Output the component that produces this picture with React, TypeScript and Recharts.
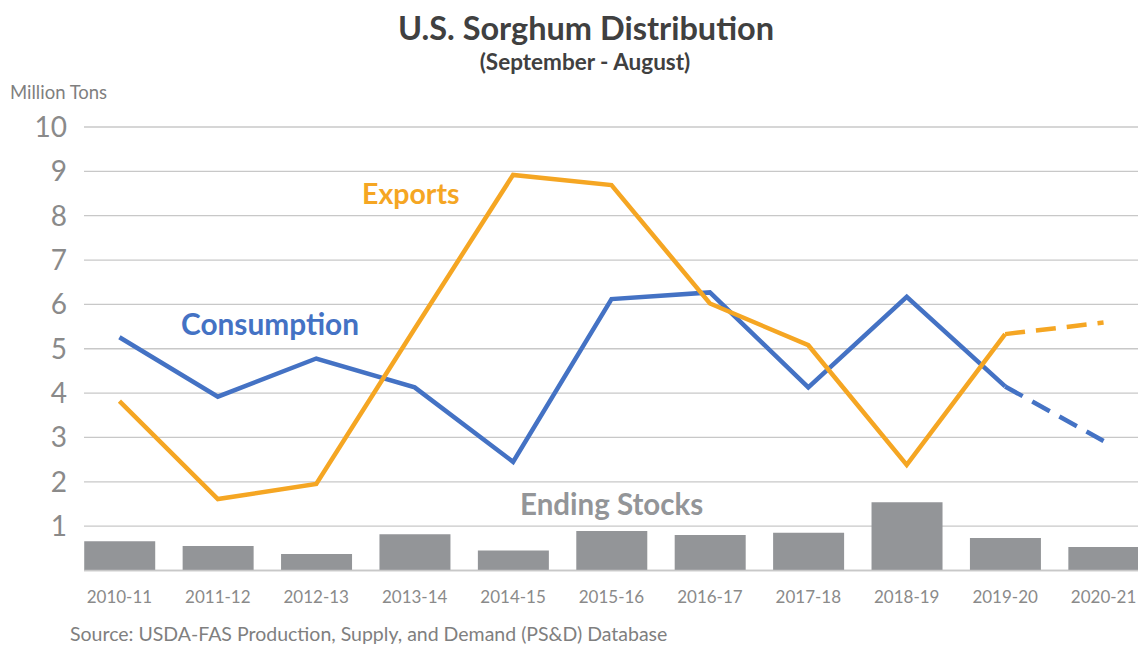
import React from "react";
import {
  ComposedChart,
  Bar,
  Line,
  XAxis,
  YAxis,
  CartesianGrid,
  ReferenceLine,
} from "recharts";

// Marketing years on the x axis
const seasons = [
  "2010-11",
  "2011-12",
  "2012-13",
  "2013-14",
  "2014-15",
  "2015-16",
  "2016-17",
  "2017-18",
  "2018-19",
  "2019-20",
  "2020-21",
];

// Million tons
const consumption = [5.26, 3.92, 4.78, 4.13, 2.45, 6.12, 6.27, 4.13, 6.17, 4.15, 2.92];
const exportsVals = [3.82, 1.61, 1.95, 5.45, 8.92, 8.69, 6.02, 5.08, 2.38, 5.33, 5.59];
const endingStocks = [0.66, 0.55, 0.37, 0.82, 0.45, 0.89, 0.8, 0.85, 1.54, 0.73, 0.53];

// last season is a projection (dashed)
const firstProjected = 10;
const yTicks = [1, 2, 3, 4, 5, 6, 7, 8, 9, 10];

const BLUE = "#4472C4";
const ORANGE = "#F5A623";
const GREY = "#939598";
const TEXT = "#8a8a8a";
const FONT = "Lato, 'Open Sans', sans-serif";

const data = seasons.map((s, i) => ({
  idx: i,
  season: s,
  stocks: endingStocks[i],
  consumption: i < firstProjected ? consumption[i] : null,
  consumptionProj: i >= firstProjected - 1 ? consumption[i] : null,
  exports: i < firstProjected ? exportsVals[i] : null,
  exportsProj: i >= firstProjected - 1 ? exportsVals[i] : null,
}));

export default function App() {
  return (
    <div
      style={{
        position: "absolute",
        left: 0,
        top: 0,
        width: 1138,
        height: 645,
        overflow: "hidden",
        background: "#fff",
        fontFamily: FONT,
      }}
    >
      <div
        style={{
          position: "absolute",
          top: 8,
          left: 0,
          width: 1172,
          textAlign: "center",
          fontSize: 32.5,
          fontWeight: 700,
          color: "#404040",
        }}
      >
        U.S. Sorghum Distribution
      </div>
      <div
        style={{
          position: "absolute",
          top: 48,
          left: 0,
          width: 1170,
          textAlign: "center",
          fontSize: 22.5,
          fontWeight: 700,
          color: "#404040",
        }}
      >
        (September - August)
      </div>
      <div style={{ position: "absolute", top: 81, left: 10, fontSize: 18.5, color: "#7f7f7f" }}>
        Million Tons
      </div>

      <ComposedChart
        width={1138}
        height={645}
        data={data}
        margin={{ top: 127, right: 0, bottom: 44.5, left: 24 }}
      >
        <CartesianGrid vertical={false} stroke="#c8c8c8" strokeWidth={1.3} />
        <XAxis
          type="number"
          dataKey="idx"
          domain={[-0.36, 10.35]}
          allowDataOverflow
          ticks={seasons.map((_, i) => i)}
          tickFormatter={(i: number) => seasons[i]}
          axisLine={false}
          tickLine={false}
          height={30}
          tickMargin={14}
          tick={{ fill: TEXT, fontSize: 17, fontFamily: FONT }}
        />
        <YAxis
          domain={[0, 10]}
          ticks={yTicks}
          axisLine={false}
          tickLine={false}
          width={60}
          tickMargin={11}
          tick={{ fill: TEXT, fontSize: 28, fontFamily: FONT }}
        />
        <ReferenceLine y={0} stroke="#c8c8c8" strokeWidth={1.3} />
        <Bar dataKey="stocks" fill={GREY} barSize={71} isAnimationActive={false} />
        <Line
          type="linear"
          dataKey="consumption"
          stroke={BLUE}
          strokeWidth={4.5}
          dot={false}
          isAnimationActive={false}
        />
        <Line
          type="linear"
          dataKey="consumptionProj"
          stroke={BLUE}
          strokeWidth={4.5}
          strokeDasharray="20 11"
          dot={false}
          isAnimationActive={false}
        />
        <Line
          type="linear"
          dataKey="exports"
          stroke={ORANGE}
          strokeWidth={4.5}
          dot={false}
          isAnimationActive={false}
        />
        <Line
          type="linear"
          dataKey="exportsProj"
          stroke={ORANGE}
          strokeWidth={4.5}
          strokeDasharray="20 11"
          dot={false}
          isAnimationActive={false}
        />
      </ComposedChart>

      <div style={{ position: "absolute", top: 176, left: 362, fontSize: 28.5, fontWeight: 700, color: ORANGE }}>
        Exports
      </div>
      <div style={{ position: "absolute", top: 306, left: 181, fontSize: 29.8, fontWeight: 700, color: BLUE }}>
        Consumption
      </div>
      <div style={{ position: "absolute", top: 486, left: 520, fontSize: 29.5, fontWeight: 700, color: GREY }}>
        Ending Stocks
      </div>
      <div style={{ position: "absolute", top: 622, left: 70, fontSize: 19.5, color: "#7f7f7f" }}>
        Source: USDA-FAS Production, Supply, and Demand (PS&amp;D) Database
      </div>
    </div>
  );
}
